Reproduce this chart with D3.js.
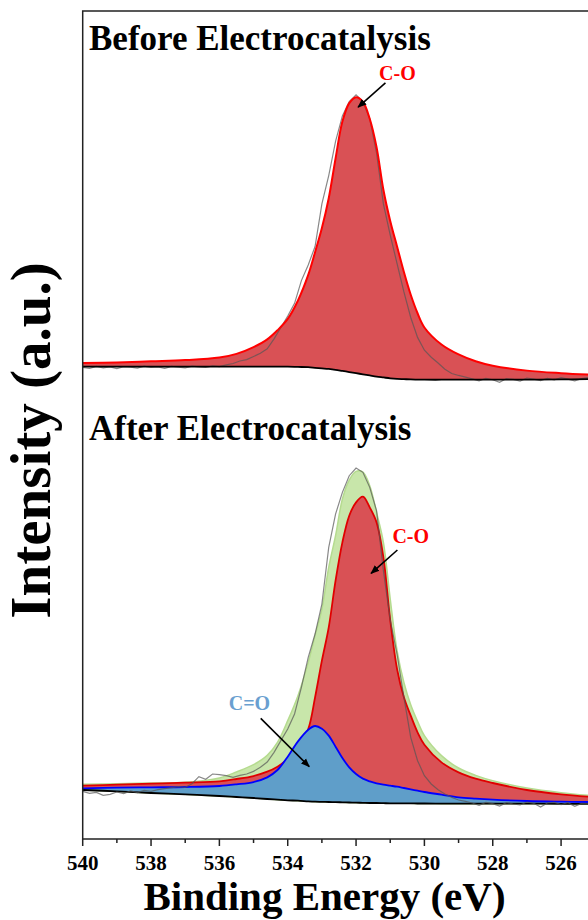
<!DOCTYPE html>
<html>
<head>
<meta charset="utf-8">
<script src="https://d3js.org/d3.v7.min.js"></script>
<style>
  body { margin: 0; background: #fff; }
  text { font-family: "Liberation Serif", "Times New Roman", serif; font-weight: bold; }
</style>
</head>
<body>
<div id="chart"></div>
<script>
var width = 588, height = 920;

// x axis
var majorTicks = [540, 538, 536, 534, 532, 530, 528, 526];
var minorTicks = [539, 537, 535, 533, 531, 529, 527, 525];

// raw spectra, sampled every 0.2 eV from 540 down to 525.2
var rawE = d3.range(540, 525.1, -0.2);
var beforeRaw = [4.4, 4.1, 4.8, 4.3, 4.6, 4.0, 4.7, 4.5, 4.2, 4.9, 4.4, 4.6, 4.1, 4.8, 4.5, 4.3, 4.9, 4.6, 4.4, 5.0, 4.7,
  5.3, 5.8, 6.7, 7.2, 8.3, 9.4, 11.0, 14.5, 18.5, 22.5, 27.0, 35.0, 40.5, 47.0, 62.0, 72.0, 84.0, 93.0, 98.0, 100.4,
  98.0, 92.0, 80.0, 62.0, 51.0, 41.0, 31.0, 22.0, 15.0, 10.5, 8.0, 6.0, 3.8, 2.3, 1.6, 1.0,
  0.4, -0.3, 0.6, 0.1, -0.8, 0.5, 0.2, -0.4, 0.7, 0.3, -0.2, 0.6, 0.0, 0.8, 0.3, -0.3, 0.5, 0.9];
var afterRaw = [3.8, 3.2, 3.5, 2.6, 2.9, 3.6, 3.1, 3.9, 3.4, 4.1, 3.8, 4.3, 4.6, 4.9, 5.2, 5.0, 6.1, 8.2, 7.4, 9.0, 8.8,
  8.5, 8.0, 8.6, 9.0, 9.8, 11.0, 12.6, 15.5, 19.0, 22.5, 27.0, 35.0, 44.0, 51.0, 60.0, 77.0, 87.0, 93.5, 98.5, 100.8,
  99.5, 95.0, 88.0, 70.0, 55.2, 45.0, 32.0, 20.0, 13.0, 8.5, 6.0, 4.3, 3.0, 2.0, 1.2, 0.8,
  0.3, -0.4, 0.5, 0.1, -0.6, 0.4, 0.0, -0.3, 0.6, 0.2, -0.9, 0.3, 0.5, -0.2, 0.4, -0.7, 0.2, 0.1];

// fitted curves, common energy grid
var fitE = [540, 539, 538, 537, 536, 535.5, 535, 534.6, 534.3, 534, 533.7, 533.4, 533.2, 533, 532.8, 532.6, 532.4, 532.2,
  532, 531.8, 531.6, 531.4, 531.2, 531, 530.8, 530.6, 530.4, 530.2, 530, 529.5, 529, 528.5, 528, 527, 526, 525.2];

var beforeCO = [6.0, 6.2, 6.6, 7.0, 7.9, 9.2, 11.6, 14.3, 17.5, 21.5, 28.0, 37.0, 45.0, 53.5, 64.0, 78.0, 91.0, 97.5,
  99.6, 98.0, 92.0, 82.0, 67.0, 56.0, 47.0, 38.0, 30.0, 23.5, 18.5, 12.5, 9.0, 6.6, 5.0, 3.3, 2.4, 1.9];
var beforeBg = [4.7, 4.7, 4.7, 4.7, 4.7, 4.7, 4.7, 4.7, 4.7, 4.7, 4.6, 4.5, 4.3, 4.1, 3.9, 3.6, 3.2, 2.8,
  2.4, 2.0, 1.6, 1.2, 0.9, 0.6, 0.4, 0.3, 0.2, 0.15, 0.1, 0.1, 0.1, 0.1, 0.1, 0.15, 0.2, 0.3];

var afterEnv = [5.9, 6.1, 6.3, 6.5, 7.8, 9.6, 11.8, 14.6, 18.5, 25.0, 32.5, 42.5, 50.5, 58.5, 71.0, 80.5, 91.5, 97.2,
  99.8, 99.6, 95.5, 87.5, 78.5, 61.5, 46.0, 36.5, 29.8, 24.8, 20.5, 14.5, 10.8, 8.6, 7.0, 4.8, 3.4, 2.6];
var afterCO = [5.5, 5.8, 6.1, 6.4, 6.8, 7.5, 8.4, 9.7, 11.2, 13.5, 17.0, 22.5, 32.0, 43.0, 53.0, 67.0, 78.5, 86.5,
  90.5, 92.2, 89.0, 84.5, 74.0, 55.2, 40.5, 32.0, 26.5, 21.5, 17.8, 12.5, 9.5, 7.6, 6.3, 4.2, 2.9, 2.2];
var afterCdO = [4.7, 4.9, 5.0, 5.1, 5.4, 5.9, 6.6, 8.0, 10.2, 14.2, 18.8, 22.3, 23.4, 22.6, 20.5, 17.2, 13.8, 11.0,
  9.0, 7.6, 6.8, 6.2, 5.8, 5.5, 5.2, 4.8, 4.4, 4.0, 3.6, 2.8, 2.0, 1.6, 1.3, 0.9, 0.7, 0.6];
var afterBg = [4.2, 3.8, 3.3, 2.9, 2.4, 2.1, 1.8, 1.5, 1.3, 1.1, 1.0, 0.8, 0.7, 0.65, 0.6, 0.55, 0.5, 0.45,
  0.4, 0.35, 0.3, 0.3, 0.25, 0.2, 0.2, 0.2, 0.2, 0.15, 0.15, 0.1, 0.1, 0.1, 0.1, 0.1, 0.05, 0.05];

var svg = d3.select("#chart").append("svg")
  .attr("width", width)
  .attr("height", height);

var plotLeft = 82.7, plotTop = 11, plotBottom = 839;
var x = d3.scaleLinear().domain([540, 525]).range([plotLeft, plotLeft + 15 * 34.17]);
var yTop = d3.scaleLinear().domain([0, 100]).range([380, 96]);
var yBot = d3.scaleLinear().domain([0, 100]).range([804, 470.7]);

var defs = svg.append("defs");
defs.append("clipPath").attr("id", "plot")
  .append("rect").attr("x", plotLeft).attr("y", plotTop).attr("width", 600).attr("height", plotBottom - plotTop);

var marker = defs.append("marker")
  .attr("id", "arrow").attr("viewBox", "0 0 10 10").attr("refX", 9).attr("refY", 5)
  .attr("markerWidth", 9).attr("markerHeight", 9).attr("orient", "auto")
  .attr("markerUnits", "userSpaceOnUse");
marker.append("path").attr("d", "M0,1 L10,5 L0,9 Z").attr("fill", "#000");

var g = svg.append("g").attr("clip-path", "url(#plot)");
var curve = d3.curveCatmullRom.alpha(0.5);

function band(y, lo, hi) {
  return d3.area().curve(curve)
    .x(function(d, i) { return x(fitE[i]); })
    .y0(function(d, i) { return y(lo[i]); })
    .y1(function(d, i) { return y(hi[i]); })(fitE);
}
function fitLine(y, vals) {
  return d3.line().curve(curve)
    .x(function(d, i) { return x(fitE[i]); })
    .y(function(d) { return y(d); })(vals);
}
function rawLine(y, vals) {
  return d3.line()
    .x(function(d, i) { return x(rawE[i]); })
    .y(function(d) { return y(d); })(vals);
}

// ---- before ----
g.append("path").attr("d", band(yTop, beforeBg, beforeCO)).attr("fill", "#d95155");
g.append("path").attr("d", rawLine(yTop, beforeRaw)).attr("fill", "none")
  .attr("stroke", "#555").attr("stroke-opacity", 0.7).attr("stroke-width", 1.2);
g.append("path").attr("d", fitLine(yTop, beforeCO)).attr("fill", "none").attr("stroke", "#ff0000").attr("stroke-width", 2);
g.append("path").attr("d", fitLine(yTop, beforeBg)).attr("fill", "none").attr("stroke", "#000").attr("stroke-width", 1.8);

// ---- after ----
g.append("path").attr("d", band(yBot, afterBg, afterEnv)).attr("fill", "#c8e6aa")
  .attr("stroke", "#b5db8f").attr("stroke-width", 1.5);
g.append("path").attr("d", band(yBot, afterBg, afterCO)).attr("fill", "#d95155");
g.append("path").attr("d", fitLine(yBot, afterCO)).attr("fill", "none").attr("stroke", "#e00000").attr("stroke-width", 1.8);
g.append("path").attr("d", band(yBot, afterBg, afterCdO)).attr("fill", "#5f9ec9");
g.append("path").attr("d", fitLine(yBot, afterCdO)).attr("fill", "none").attr("stroke", "#0000ff").attr("stroke-width", 1.8);
g.append("path").attr("d", fitLine(yBot, afterBg)).attr("fill", "none").attr("stroke", "#000").attr("stroke-width", 1.8);
g.append("path").attr("d", rawLine(yBot, afterRaw)).attr("fill", "none")
  .attr("stroke", "#555").attr("stroke-opacity", 0.7).attr("stroke-width", 1.2);

// ---- annotations ----
function arrow(y, e0, i0, e1, i1) {
  svg.append("line").attr("x1", x(e0)).attr("y1", y(i0)).attr("x2", x(e1)).attr("y2", y(i1))
    .attr("stroke", "#000").attr("stroke-width", 1.6).attr("marker-end", "url(#arrow)");
}
function label(y, e, i, txt, col) {
  svg.append("text").attr("x", x(e)).attr("y", y(i)).attr("text-anchor", "middle")
    .attr("font-size", 20).attr("fill", col).text(txt);
}
label(yTop, 530.79, 105.6, "C-O", "#ff0000");
arrow(yTop, 531.14, 104.6, 531.94, 96.1);
label(yBot, 530.4, 78.3, "C-O", "#ff0000");
arrow(yBot, 530.79, 76.2, 531.56, 69.2);
label(yBot, 535.12, 28.2, "C=O", "#6a9fd0");
arrow(yBot, 534.79, 25.7, 533.37, 11.2);

// panel titles
svg.append("text").attr("x", 89).attr("y", 50).attr("font-size", 35).text("Before Electrocatalysis");
svg.append("text").attr("x", 89).attr("y", 440).attr("font-size", 35).text("After Electrocatalysis");

// ---- frame and axis ----
svg.append("path")
  .attr("d", "M" + (width + 10) + "," + plotTop + "H" + plotLeft + "V" + plotBottom + "H" + (width + 10))
  .attr("fill", "none").attr("stroke", "#222").attr("stroke-width", 1.5);

var xAxis = svg.append("g").attr("transform", "translate(0," + plotBottom + ")");
xAxis.selectAll(".major").data(majorTicks).enter().append("line")
  .attr("x1", x).attr("x2", x).attr("y1", 0).attr("y2", 7)
  .attr("stroke", "#222").attr("stroke-width", 1.5);
xAxis.selectAll(".minor").data(minorTicks).enter().append("line")
  .attr("x1", x).attr("x2", x).attr("y1", 0).attr("y2", 4)
  .attr("stroke", "#222").attr("stroke-width", 1.5);
xAxis.selectAll(".lbl").data(majorTicks).enter().append("text")
  .attr("x", x).attr("y", 31).attr("text-anchor", "middle").attr("font-size", 21)
  .text(function(d) { return d; });

svg.append("text").attr("x", 324.5).attr("y", 910).attr("text-anchor", "middle")
  .attr("font-size", 41).text("Binding Energy (eV)");
svg.append("text").attr("transform", "translate(50,440.5) rotate(-90)")
  .attr("text-anchor", "middle").attr("font-size", 57).text("Intensity (a.u.)");
</script>
</body>
</html>
